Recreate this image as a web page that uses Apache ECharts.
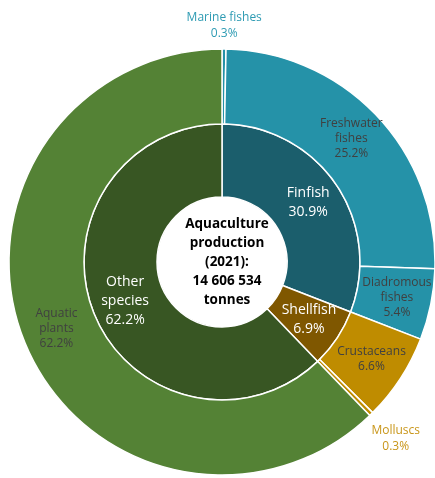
<!DOCTYPE html>
<html>
<head>
<meta charset="utf-8">
<script src="https://cdn.jsdelivr.net/npm/echarts@6/dist/echarts.min.js"></script>
<style>
html,body{margin:0;padding:0;background:#fff;}
#chart{width:435px;height:478px;}
</style>
</head>
<body>
<div id="chart"></div>
<script>
// Inner ring (groups)
const innerCategories = ['Finfish', 'Shellfish', 'Other\nspecies'];
const innerValues = [30.9, 6.9, 62.2];
const innerColors = ['#1b5e6c', '#7f5700', '#385623'];

// Outer ring (species groups)
const outerCategories = ['Marine fishes', 'Freshwater\nfishes', 'Diadromous\nfishes', 'Crustaceans', 'Molluscs', 'Aquatic\nplants'];
const outerValues = [0.3, 25.2, 5.4, 6.6, 0.3, 62.2];
const outerColors = ['#2592a8', '#2592a8', '#2592a8', '#bf8c00', '#bf8c00', '#548235'];
// tiny slices labelled outside the ring
const outsideLabelColors = { 'Marine fishes': '#2e9bb3', 'Molluscs': '#c9961a' };

const centerTitle = 'Aquaculture\nproduction\n(2021):\n14 606 534\ntonnes';

const FONT = '"Open Sans", Lato, sans-serif';
const cx = 222, cy = 262;

const chart = echarts.init(document.getElementById('chart'), null, { renderer: 'canvas' });

const pct = p => p.value.toFixed(1) + '%';

// transparent ring used only to place the label of one tiny slice outside the pie
function outsideLabelRing(name, outerR) {
  return {
    type: 'pie',
    center: [cx, cy],
    radius: [213, outerR],
    startAngle: 90,
    clockwise: true,
    silent: true,
    itemStyle: { color: 'rgba(0,0,0,0)', borderWidth: 0 },
    label: {
      show: false, position: 'inside',
      fontFamily: FONT, fontSize: 12, lineHeight: 16,
      formatter: p => p.name + '\n' + pct(p)
    },
    labelLine: { show: false },
    data: outerCategories.map((n, i) => ({
      name: n, value: outerValues[i],
      label: { show: n === name, color: outsideLabelColors[name] }
    }))
  };
}

chart.setOption({
  animation: false,
  backgroundColor: '#ffffff',
  title: {
    text: centerTitle,
    left: cx,
    top: cy - 5,
    textAlign: 'center',
    textVerticalAlign: 'middle',
    textStyle: { fontFamily: FONT, fontSize: 13.5, fontWeight: 'bold', color: '#000', lineHeight: 19 }
  },
  series: [
    {
      type: 'pie',
      center: [cx, cy],
      radius: [65, 138],
      startAngle: 90,
      clockwise: true,
      silent: true,
      itemStyle: { borderColor: '#ffffff', borderWidth: 1.5 },
      label: {
        show: true, position: 'inside', color: '#ffffff',
        fontFamily: FONT, fontSize: 14, lineHeight: 19,
        formatter: p => p.name + '\n' + pct(p)
      },
      labelLine: { show: false },
      data: innerCategories.map((n, i) => ({ name: n, value: innerValues[i], itemStyle: { color: innerColors[i] } }))
    },
    {
      type: 'pie',
      center: [cx, cy],
      radius: [138, 213],
      startAngle: 90,
      clockwise: true,
      silent: true,
      itemStyle: { borderColor: '#ffffff', borderWidth: 1.5 },
      label: {
        show: true, position: 'inside', color: '#404040',
        fontFamily: FONT, fontSize: 12, lineHeight: 15,
        formatter: p => p.name + '\n' + pct(p)
      },
      labelLine: { show: false },
      data: outerCategories.map((n, i) => ({
        name: n, value: outerValues[i],
        itemStyle: { color: outerColors[i] },
        label: { show: !(n in outsideLabelColors) }
      }))
    },
    outsideLabelRing('Marine fishes', 254),
    outsideLabelRing('Molluscs', 277)
  ]
});
</script>
</body>
</html>
